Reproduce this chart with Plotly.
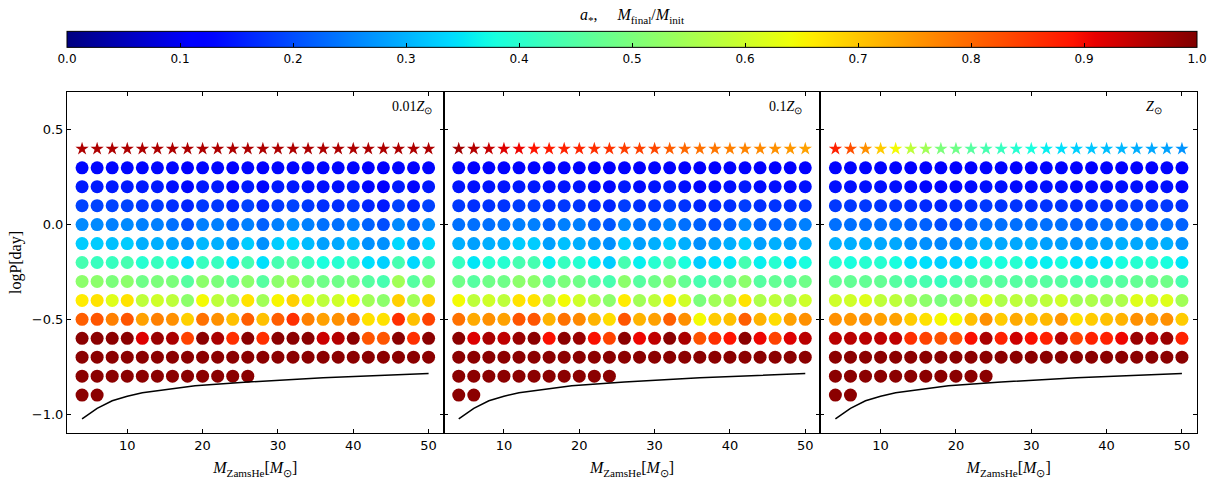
import numpy as np
import plotly.graph_objects as go
from plotly.subplots import make_subplots

# ---- grid of helium-star masses and orbital periods ----
mass_grid = [4, 6, 8, 10, 12, 14, 16, 18, 20, 22, 24, 26,
             28, 30, 32, 34, 36, 38, 40, 42, 44, 46, 48, 50]
logp_rows = [0.3, 0.2, 0.1, 0.0, -0.1, -0.2, -0.3, -0.4, -0.5, -0.6, -0.7, -0.8, -0.9]
star_logp = 0.4

# ---- 0.01 Z_sun: spin a_* per row (top to bottom) ----
spin_z001 = [
    [0.13, 0.13, 0.13, 0.13, 0.13, 0.13, 0.13, 0.12, 0.13, 0.13, 0.12, 0.13, 0.12, 0.13, 0.13, 0.13, 0.13, 0.13, 0.13, 0.12, 0.12, 0.13, 0.12, 0.13],
    [0.15, 0.15, 0.15, 0.15, 0.15, 0.15, 0.14, 0.13, 0.15, 0.15, 0.13, 0.15, 0.13, 0.15, 0.15, 0.14, 0.14, 0.14, 0.15, 0.13, 0.12, 0.15, 0.13, 0.15],
    [0.19, 0.19, 0.19, 0.19, 0.18, 0.18, 0.17, 0.16, 0.18, 0.18, 0.16, 0.19, 0.16, 0.18, 0.19, 0.18, 0.17, 0.17, 0.18, 0.16, 0.15, 0.19, 0.16, 0.19],
    [0.26, 0.26, 0.25, 0.26, 0.25, 0.25, 0.235, 0.20, 0.25, 0.25, 0.22, 0.25, 0.22, 0.25, 0.265, 0.25, 0.235, 0.235, 0.25, 0.22, 0.20, 0.26, 0.22, 0.265],
    [0.325, 0.325, 0.313, 0.325, 0.297, 0.297, 0.282, 0.266, 0.305, 0.297, 0.266, 0.325, 0.266, 0.325, 0.337, 0.308, 0.282, 0.29, 0.308, 0.266, 0.266, 0.337, 0.266, 0.337],
    [0.435, 0.417, 0.417, 0.435, 0.396, 0.417, 0.396, 0.337, 0.417, 0.417, 0.345, 0.435, 0.345, 0.435, 0.455, 0.417, 0.38, 0.396, 0.417, 0.345, 0.33, 0.435, 0.337, 0.435],
    [0.52, 0.52, 0.50, 0.52, 0.485, 0.50, 0.50, 0.455, 0.52, 0.50, 0.455, 0.52, 0.455, 0.52, 0.545, 0.50, 0.485, 0.485, 0.50, 0.455, 0.436, 0.545, 0.455, 0.52],
    [0.66, 0.67, 0.62, 0.67, 0.58, 0.60, 0.58, 0.52, 0.645, 0.58, 0.545, 0.67, 0.545, 0.65, 0.69, 0.62, 0.58, 0.60, 0.645, 0.545, 0.52, 0.69, 0.545, 0.69],
    [0.81, 0.82, 0.775, 0.82, 0.74, 0.775, 0.758, 0.69, 0.79, 0.758, 0.707, 0.81, 0.707, 0.81, 0.86, 0.775, 0.74, 0.758, 0.79, 0.672, 0.672, 0.86, 0.707, 0.84],
    [0.99, 0.99, 0.99, 0.99, 0.918, 0.977, 0.963, 0.84, 0.99, 0.963, 0.86, 0.99, 0.86, 0.99, 0.99, 0.99, 0.934, 0.955, 0.99, 0.82, 0.82, 0.99, 0.86, 0.99],
    [0.99] * 24,
    [0.99] * 12,
    [0.99] * 2,
]
mass_ratio_z001 = [0.96] * 24

# ---- 0.1 Z_sun ----
spin_z01 = [
    [0.125, 0.12, 0.125, 0.125, 0.125, 0.125, 0.12, 0.125, 0.125, 0.12, 0.12, 0.125, 0.12, 0.125, 0.125, 0.12, 0.115, 0.12, 0.125, 0.125, 0.12, 0.12, 0.12, 0.12],
    [0.145, 0.14, 0.145, 0.145, 0.15, 0.15, 0.14, 0.145, 0.145, 0.135, 0.13, 0.15, 0.135, 0.145, 0.15, 0.14, 0.13, 0.135, 0.14, 0.15, 0.135, 0.14, 0.135, 0.14],
    [0.18, 0.17, 0.175, 0.175, 0.185, 0.185, 0.17, 0.18, 0.175, 0.165, 0.16, 0.185, 0.17, 0.175, 0.185, 0.175, 0.16, 0.165, 0.17, 0.185, 0.17, 0.175, 0.17, 0.175],
    [0.235, 0.235, 0.235, 0.24, 0.25, 0.25, 0.22, 0.25, 0.25, 0.22, 0.21, 0.26, 0.235, 0.235, 0.26, 0.235, 0.22, 0.20, 0.22, 0.26, 0.22, 0.22, 0.235, 0.25],
    [0.297, 0.282, 0.297, 0.297, 0.325, 0.325, 0.282, 0.313, 0.297, 0.282, 0.266, 0.325, 0.282, 0.297, 0.325, 0.297, 0.266, 0.282, 0.297, 0.325, 0.282, 0.297, 0.282, 0.297],
    [0.417, 0.35, 0.396, 0.396, 0.435, 0.435, 0.36, 0.417, 0.396, 0.36, 0.325, 0.435, 0.36, 0.396, 0.435, 0.38, 0.325, 0.345, 0.35, 0.435, 0.36, 0.396, 0.35, 0.38],
    [0.485, 0.455, 0.485, 0.485, 0.52, 0.52, 0.455, 0.50, 0.485, 0.455, 0.436, 0.52, 0.455, 0.485, 0.52, 0.47, 0.436, 0.455, 0.47, 0.52, 0.455, 0.47, 0.455, 0.485],
    [0.645, 0.58, 0.60, 0.58, 0.67, 0.67, 0.56, 0.645, 0.60, 0.56, 0.52, 0.66, 0.545, 0.58, 0.66, 0.60, 0.50, 0.545, 0.56, 0.67, 0.56, 0.58, 0.545, 0.60],
    [0.79, 0.73, 0.758, 0.74, 0.82, 0.82, 0.72, 0.79, 0.765, 0.72, 0.676, 0.82, 0.72, 0.74, 0.81, 0.758, 0.645, 0.695, 0.707, 0.81, 0.72, 0.676, 0.74, 0.758],
    [0.99, 0.918, 0.963, 0.945, 0.977, 0.99, 0.894, 0.99, 0.977, 0.894, 0.84, 0.99, 0.905, 0.945, 0.99, 0.963, 0.825, 0.86, 0.89, 0.99, 0.905, 0.84, 0.918, 0.95],
    [0.99] * 24,
    [0.99] * 11,
    [0.99] * 2,
]
mass_ratio_z01 = [0.97, 0.955, 0.94, 0.918, 0.905, 0.89, 0.88, 0.875, 0.87, 0.86, 0.855, 0.845,
                  0.84, 0.835, 0.81, 0.80, 0.79, 0.785, 0.775, 0.77, 0.765, 0.758, 0.75, 0.74]

# ---- Z_sun ----
spin_z1 = [
    [0.125, 0.125, 0.125, 0.125, 0.125, 0.12, 0.12, 0.12, 0.12, 0.12, 0.125, 0.125, 0.12, 0.12, 0.125, 0.125, 0.12, 0.12, 0.125, 0.12, 0.12, 0.12, 0.125, 0.12],
    [0.14, 0.14, 0.14, 0.14, 0.14, 0.135, 0.13, 0.13, 0.13, 0.135, 0.14, 0.14, 0.135, 0.135, 0.14, 0.14, 0.13, 0.135, 0.135, 0.14, 0.14, 0.135, 0.14, 0.13],
    [0.18, 0.18, 0.18, 0.175, 0.175, 0.17, 0.165, 0.16, 0.165, 0.17, 0.18, 0.175, 0.175, 0.17, 0.175, 0.175, 0.165, 0.17, 0.17, 0.175, 0.18, 0.175, 0.18, 0.17],
    [0.235, 0.235, 0.235, 0.235, 0.235, 0.22, 0.22, 0.20, 0.20, 0.22, 0.235, 0.235, 0.235, 0.235, 0.235, 0.235, 0.22, 0.22, 0.235, 0.235, 0.235, 0.22, 0.235, 0.22],
    [0.297, 0.297, 0.297, 0.29, 0.29, 0.266, 0.266, 0.258, 0.258, 0.282, 0.297, 0.29, 0.29, 0.297, 0.282, 0.282, 0.266, 0.282, 0.282, 0.297, 0.29, 0.29, 0.297, 0.27],
    [0.396, 0.38, 0.396, 0.396, 0.38, 0.345, 0.345, 0.33, 0.33, 0.35, 0.396, 0.38, 0.396, 0.36, 0.36, 0.38, 0.345, 0.345, 0.35, 0.38, 0.396, 0.396, 0.38, 0.35],
    [0.47, 0.47, 0.47, 0.47, 0.455, 0.436, 0.436, 0.417, 0.436, 0.455, 0.47, 0.455, 0.455, 0.455, 0.455, 0.455, 0.436, 0.436, 0.455, 0.455, 0.47, 0.47, 0.485, 0.436],
    [0.60, 0.60, 0.62, 0.58, 0.58, 0.545, 0.52, 0.50, 0.52, 0.545, 0.62, 0.56, 0.58, 0.56, 0.58, 0.60, 0.545, 0.56, 0.545, 0.56, 0.62, 0.60, 0.62, 0.545],
    [0.758, 0.75, 0.758, 0.74, 0.74, 0.695, 0.672, 0.65, 0.645, 0.707, 0.758, 0.695, 0.73, 0.707, 0.715, 0.75, 0.672, 0.695, 0.707, 0.72, 0.758, 0.74, 0.758, 0.695],
    [0.95, 0.95, 0.95, 0.945, 0.945, 0.86, 0.84, 0.825, 0.825, 0.894, 0.963, 0.875, 0.934, 0.894, 0.875, 0.95, 0.84, 0.875, 0.875, 0.905, 0.977, 0.945, 0.977, 0.875],
    [0.99] * 24,
    [0.99] * 11,
    [0.99] * 2,
]
mass_ratio_z1 = [0.875, 0.825, 0.758, 0.695, 0.645, 0.58, 0.545, 0.50, 0.485, 0.455, 0.436, 0.417,
                 0.396, 0.38, 0.36, 0.345, 0.33, 0.32, 0.313, 0.305, 0.297, 0.29, 0.285, 0.27]

# ---- boundary curve (same in every panel) ----
curve_mass = [4, 6, 8, 10, 12, 15, 19, 26, 36, 50]
curve_logp = [-1.025, -0.97, -0.93, -0.906, -0.887, -0.87, -0.851, -0.831, -0.809, -0.786]

panel_labels = ["0.01<i>Z</i><sub>⊙</sub>", "0.1<i>Z</i><sub>⊙</sub>", "<i>Z</i><sub>⊙</sub>"]


def jet_scale(n=101):
    """matplotlib-style jet colormap as a plotly colorscale"""
    s = np.linspace(0, 1, n)
    r = np.interp(s, [0, 0.35, 0.66, 0.89, 1], [0, 0, 1, 1, 0.5])
    g = np.interp(s, [0, 0.125, 0.375, 0.64, 0.91, 1], [0, 0, 1, 1, 0, 0])
    b = np.interp(s, [0, 0.11, 0.34, 0.65, 1], [0.5, 1, 1, 0, 0])
    return [[float(v), f"rgb({round(255*rr)},{round(255*gg)},{round(255*bb)})"]
            for v, rr, gg, bb in zip(s, r, g, b)]


fig = make_subplots(rows=1, cols=3, horizontal_spacing=0, shared_yaxes=True)

serif = "Liberation Serif"
sans = "DejaVu Sans"

panels = [(spin_z001, mass_ratio_z001), (spin_z01, mass_ratio_z01), (spin_z1, mass_ratio_z1)]
for col, (spins, ratios) in enumerate(panels, start=1):
    xs, ys, cs = [], [], []
    for logp, row in zip(logp_rows, spins):
        xs += mass_grid[:len(row)]
        ys += [logp] * len(row)
        cs += row
    fig.add_trace(go.Scatter(
        x=xs, y=ys, mode="markers",
        marker=dict(symbol="circle", size=13, color=cs, coloraxis="coloraxis",
                    line=dict(width=0)),
        showlegend=False), row=1, col=col)
    fig.add_trace(go.Scatter(
        x=mass_grid[:len(ratios)], y=[star_logp] * len(ratios), mode="markers",
        marker=dict(symbol="star", size=10, color=ratios, coloraxis="coloraxis",
                    line=dict(width=0)),
        showlegend=False), row=1, col=col)
    fig.add_trace(go.Scatter(
        x=curve_mass, y=curve_logp, mode="lines",
        line=dict(color="black", width=1.5), showlegend=False), row=1, col=col)
    fig.add_annotation(
        text=panel_labels[col - 1], xref=f"x{'' if col == 1 else col} domain",
        yref="y domain", x=0.858, y=0.955, xanchor="left", yanchor="middle",
        showarrow=False, font=dict(family=serif, size=14, color="black"))

axis_common = dict(showline=True, linecolor="black", linewidth=1, mirror="ticks",
                   ticks="inside", ticklen=4, tickcolor="black", showgrid=False,
                   zeroline=False, tickfont=dict(family=sans, size=13, color="black"))

for col in range(1, 4):
    fig.update_xaxes(range=[2, 52], tickvals=[10, 20, 30, 40, 50],
                     title=dict(text="<i>M</i><sub>ZamsHe</sub>[<i>M</i><sub>⊙</sub>]",
                                font=dict(family=serif, size=16, color="black"),
                                standoff=10),
                     row=1, col=col, **axis_common)
    fig.update_yaxes(range=[-1.1, 0.7], tickvals=[-1.0, -0.5, 0.0, 0.5], tickformat=".1f",
                     row=1, col=col, **axis_common)

fig.update_yaxes(title=dict(text="logP[day]", font=dict(family=serif, size=16, color="black"),
                            standoff=6), row=1, col=1)

fig.update_layout(
    width=1215, height=488,
    margin=dict(l=67, r=18, t=85, b=55),
    plot_bgcolor="white", paper_bgcolor="white",
    coloraxis=dict(
        colorscale=jet_scale(), cmin=0, cmax=1,
        colorbar=dict(
            orientation="h", x=0.5, xanchor="center", y=1.235, yanchor="top",
            len=1, lenmode="fraction", thickness=16, thicknessmode="pixels",
            xpad=0, ypad=0, outlinecolor="black", outlinewidth=1,
            ticks="inside", ticklen=4, tickcolor="black",
            tickvals=[0.0, 0.1, 0.2, 0.3, 0.4, 0.5, 0.6, 0.7, 0.8, 0.9, 1.0],
            tickformat=".1f", tickfont=dict(family=sans, size=12, color="black"),
            title=dict(text="<i>a</i><sub>*</sub>,     <i>M</i><sub>final</sub>/<i>M</i><sub>init</sub>",
                       side="top", font=dict(family=serif, size=16, color="black")),
        ),
    ),
)

fig.write_html("out.html")
